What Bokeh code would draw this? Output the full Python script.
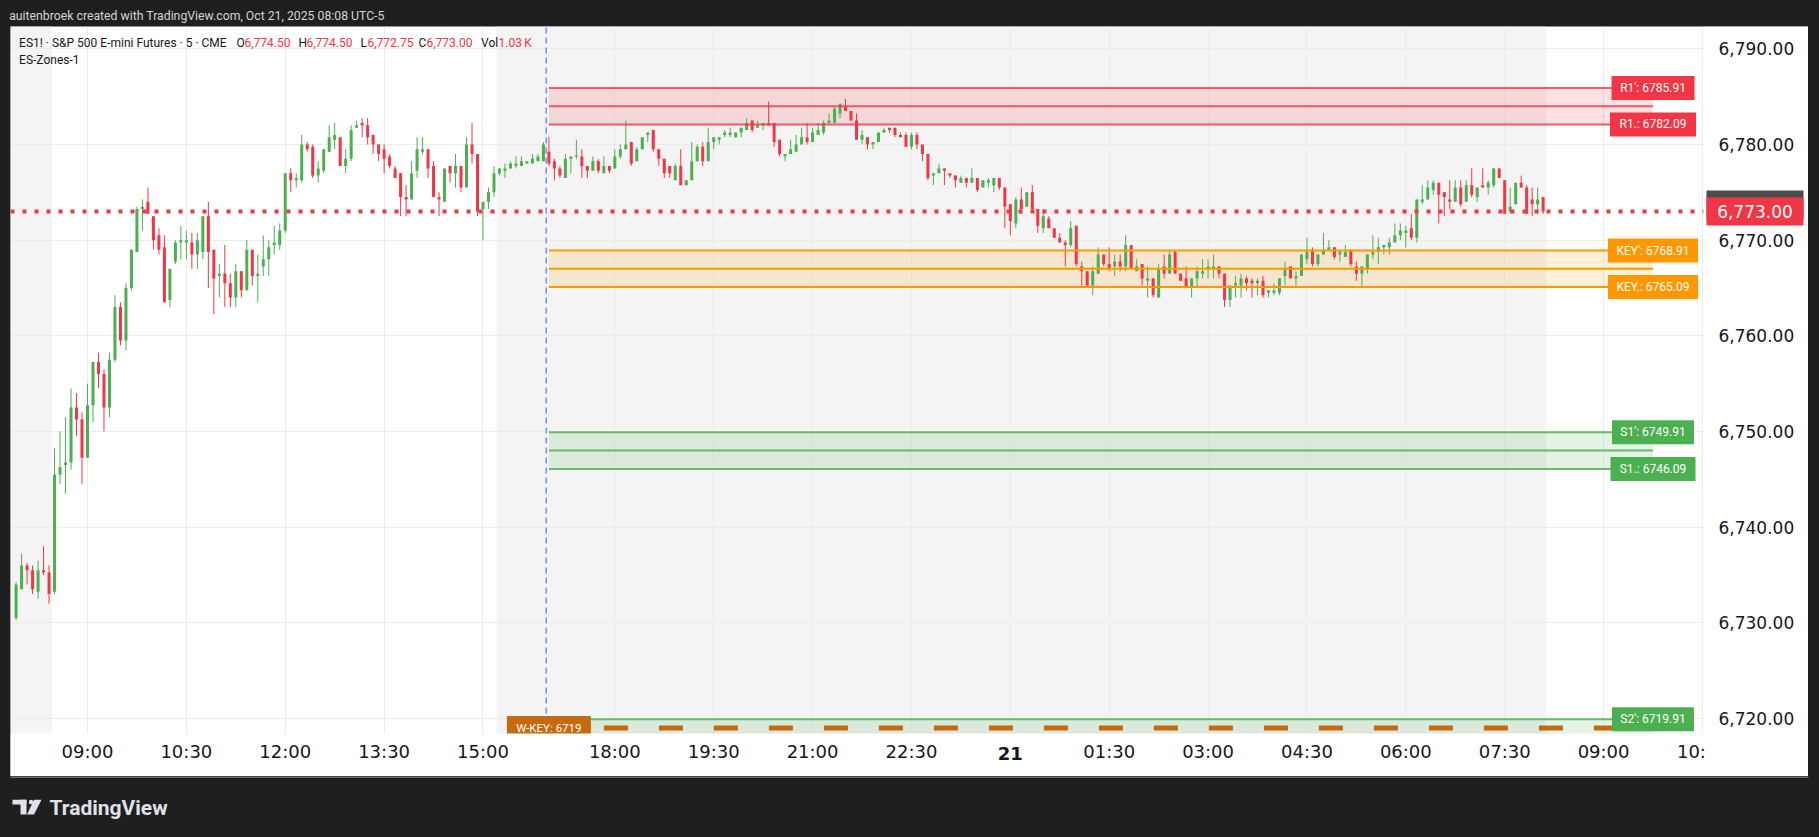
import numpy as np
import pandas as pd
from bokeh.plotting import figure
from bokeh.models import (Range1d, FixedTicker, NumeralTickFormatter, Label, BoxAnnotation,
                          ColumnDataSource, Spacer)
from bokeh.layouts import column, row
from bokeh.embed import file_html
from bokeh.resources import INLINE
from bokeh.core.properties import value

# ---------------- data (ES1!, 5 min bars) ----------------
session1_start = "2025-10-20 07:55"
session1_bars = 97
session2_start = "2025-10-20 17:00"
rth_open = "2025-10-20 08:30"
rth_close = "2025-10-20 15:15"

opens = [
    6730.5, 6733.5, 6736.0, 6735.5, 6733.25, 6735.5, 6735.25, 6733.25, 6745.5, 6746.5,
    6746.75, 6752.5, 6751.25, 6747.25, 6752.75, 6757.25, 6756.0, 6752.5, 6757.5, 6763.0,
    6759.5, 6765.0, 6768.75, 6773.25, 6774.0, 6772.5, 6770.5, 6769.25, 6763.75, 6767.75,
    6769.75, 6769.75, 6769.75, 6768.5, 6768.75, 6772.5, 6769.0, 6766.25, 6766.5, 6765.5,
    6764.0, 6766.75, 6764.75, 6769.0, 6766.25, 6767.25, 6768.0, 6769.5, 6769.5, 6771.0,
    6777.0, 6776.25, 6776.25, 6780.0, 6779.75, 6776.75, 6777.25, 6779.25, 6780.5, 6780.75,
    6777.75, 6778.5, 6781.75, 6782.25, 6782.0, 6781.0, 6780.0, 6779.5, 6778.75, 6777.5,
    6777.0, 6774.5, 6774.25, 6777.25, 6779.25, 6779.5, 6777.75, 6774.5, 6774.0, 6777.75,
    6777.0, 6777.75, 6775.5, 6780.0, 6779.0, 6773.25, 6774.0, 6775.0, 6777.0, 6777.25,
    6777.5, 6777.75, 6777.75, 6778.0, 6778.0, 6778.25, 6778.25,
    6779.25, 6778.25, 6777.5,
    6776.5, 6778.5, 6778.75, 6778.75, 6777.75, 6777.25, 6778.25, 6777.0, 6777.75, 6777.5,
    6778.75, 6779.5, 6780.25, 6778.25, 6779.5, 6781.0, 6781.5, 6779.5, 6778.5, 6777.75,
    6776.25, 6777.75, 6775.75, 6776.25, 6778.25, 6779.75, 6778.25, 6780.25, 6780.5, 6781.0,
    6781.0, 6780.75, 6781.25, 6781.5, 6782.5, 6781.75, 6782.0, 6782.25, 6782.25, 6780.5,
    6778.75, 6779.0, 6779.25, 6780.0, 6780.75, 6780.25, 6781.0, 6781.25, 6782.25, 6782.25,
    6783.25, 6784.0, 6783.5, 6782.5, 6780.5, 6780.75, 6780.0, 6780.25, 6781.25, 6781.75,
    6781.75, 6781.0, 6781.0, 6779.75, 6781.0, 6780.0, 6779.0, 6776.75, 6777.0, 6777.5,
    6777.0, 6776.75, 6776.0, 6776.5, 6776.0, 6776.5, 6775.5, 6776.0, 6775.75, 6776.5,
    6775.5, 6773.75, 6771.75, 6774.25, 6773.5, 6775.0, 6773.25, 6771.25, 6772.25, 6771.25,
    6770.25, 6769.75, 6769.5, 6771.5, 6767.25, 6766.75, 6765.25, 6766.5, 6768.5, 6767.5,
    6767.25, 6767.75, 6767.25, 6769.5, 6766.75, 6767.5, 6765.75, 6766.0, 6764.0, 6767.25,
    6766.5, 6768.75, 6766.5, 6766.0, 6765.0, 6766.0, 6766.5, 6767.0, 6767.0, 6767.25,
    6766.5, 6763.75, 6765.25, 6765.25, 6766.0, 6765.75, 6765.5, 6765.75, 6764.5, 6764.5,
    6764.5, 6766.25, 6767.25, 6766.0, 6766.25, 6768.0, 6769.0, 6767.5, 6768.5, 6769.0,
    6769.25, 6768.5, 6768.25, 6769.0, 6767.25, 6766.5, 6767.0, 6768.5, 6768.75, 6769.25,
    6769.25, 6769.75, 6770.5, 6770.75, 6771.25, 6770.25, 6774.0, 6774.25, 6775.25, 6776.0,
    6775.0, 6774.25, 6774.0, 6775.5, 6774.0, 6775.75, 6774.5, 6775.75, 6775.5, 6775.75,
    6777.5, 6776.25, 6773.0, 6773.75, 6776.0, 6775.5, 6774.25, 6773.75, 6774.5,
]
highs = [
    6734.25, 6737.25, 6736.25, 6736.0, 6736.5, 6738.0, 6736.0, 6748.25, 6750.0, 6751.5,
    6754.5, 6754.0, 6752.0, 6755.0, 6757.25, 6758.25, 6756.5, 6758.25, 6764.25, 6763.5,
    6765.5, 6769.0, 6773.5, 6774.25, 6775.5, 6772.5, 6771.25, 6770.5, 6767.0, 6770.0,
    6771.5, 6771.0, 6770.75, 6770.75, 6772.5, 6774.0, 6769.0, 6767.5, 6769.5, 6766.5,
    6767.5, 6766.75, 6770.0, 6769.0, 6768.5, 6770.5, 6770.0, 6771.5, 6771.75, 6777.0,
    6777.5, 6777.0, 6781.0, 6780.25, 6780.0, 6778.25, 6779.5, 6782.0, 6782.25, 6780.75,
    6779.5, 6782.0, 6782.5, 6782.75, 6782.75, 6781.0, 6780.0, 6780.0, 6779.0, 6777.75,
    6777.0, 6775.75, 6778.25, 6780.75, 6780.75, 6779.5, 6778.25, 6775.0, 6777.5, 6777.75,
    6779.0, 6777.75, 6780.75, 6782.25, 6779.0, 6774.0, 6775.5, 6777.75, 6777.5, 6778.0,
    6778.25, 6778.75, 6778.75, 6778.25, 6779.0, 6779.0, 6780.25,
    6780.75, 6778.5, 6777.75,
    6779.0, 6778.75, 6780.5, 6779.5, 6777.75, 6778.75, 6778.5, 6778.75, 6777.75, 6779.5,
    6780.0, 6782.5, 6780.25, 6779.75, 6780.75, 6781.25, 6781.5, 6779.5, 6778.5, 6777.75,
    6778.0, 6779.5, 6776.25, 6780.25, 6780.0, 6780.25, 6781.75, 6780.75, 6780.75, 6781.5,
    6781.75, 6781.25, 6781.75, 6782.75, 6782.5, 6782.5, 6782.25, 6784.5, 6782.25, 6780.5,
    6779.0, 6780.5, 6781.0, 6781.75, 6782.25, 6781.75, 6782.25, 6782.5, 6783.25, 6784.0,
    6784.25, 6784.75, 6783.5, 6783.25, 6781.5, 6780.75, 6780.25, 6781.25, 6781.75, 6781.75,
    6781.75, 6781.25, 6781.25, 6781.25, 6781.25, 6780.0, 6779.0, 6777.0, 6778.0, 6777.5,
    6777.0, 6776.75, 6776.75, 6776.5, 6777.5, 6776.5, 6776.25, 6776.5, 6776.5, 6776.5,
    6775.5, 6773.75, 6774.5, 6775.5, 6775.0, 6775.75, 6773.25, 6773.25, 6772.5, 6771.25,
    6770.75, 6770.0, 6772.0, 6771.5, 6767.75, 6766.75, 6767.25, 6769.25, 6768.5, 6769.25,
    6768.5, 6768.5, 6770.5, 6769.5, 6768.0, 6767.5, 6767.25, 6766.0, 6767.5, 6768.5,
    6769.0, 6769.0, 6766.5, 6767.25, 6766.0, 6767.25, 6768.0, 6768.0, 6768.5, 6767.25,
    6766.5, 6765.25, 6766.25, 6766.5, 6766.25, 6766.0, 6766.0, 6766.25, 6764.75, 6765.5,
    6766.0, 6767.75, 6767.25, 6766.75, 6768.5, 6770.25, 6769.25, 6768.5, 6770.75, 6770.0,
    6769.25, 6769.0, 6769.5, 6769.0, 6767.75, 6767.25, 6768.5, 6770.5, 6770.25, 6769.5,
    6770.25, 6771.75, 6771.75, 6771.5, 6772.75, 6774.25, 6775.75, 6776.25, 6776.25, 6776.0,
    6775.0, 6776.25, 6776.25, 6776.25, 6776.25, 6777.5, 6775.5, 6777.5, 6776.25, 6777.5,
    6777.5, 6776.25, 6775.5, 6776.0, 6776.75, 6775.75, 6775.5, 6775.5, 6774.5,
]
lows = [
    6730.25, 6733.5, 6734.0, 6733.0, 6732.5, 6735.0, 6732.0, 6733.0, 6744.5, 6743.5,
    6746.0, 6749.5, 6744.5, 6747.25, 6751.0, 6754.5, 6750.0, 6751.5, 6757.25, 6759.0,
    6758.5, 6764.75, 6768.75, 6771.0, 6772.75, 6769.0, 6768.5, 6763.5, 6763.0, 6767.5,
    6768.0, 6768.0, 6767.0, 6767.0, 6768.0, 6765.0, 6762.25, 6764.0, 6763.0, 6763.0,
    6763.0, 6764.0, 6764.75, 6765.25, 6763.5, 6766.25, 6766.25, 6768.5, 6769.0, 6770.75,
    6775.0, 6775.5, 6776.0, 6779.25, 6776.5, 6776.0, 6777.0, 6779.25, 6779.5, 6777.75,
    6777.0, 6778.25, 6781.75, 6780.75, 6780.0, 6779.0, 6778.25, 6777.0, 6777.5, 6776.5,
    6772.5, 6772.5, 6774.25, 6776.5, 6779.0, 6776.5, 6774.5, 6772.5, 6774.0, 6776.0,
    6775.5, 6775.0, 6775.5, 6778.0, 6772.5, 6770.0, 6773.25, 6774.5, 6776.75, 6776.5,
    6777.5, 6777.5, 6777.75, 6778.0, 6778.0, 6778.25, 6778.25,
    6777.75, 6776.25, 6776.5,
    6776.5, 6777.0, 6778.5, 6776.5, 6776.5, 6777.25, 6777.0, 6777.0, 6777.0, 6777.5,
    6778.5, 6779.5, 6777.75, 6778.25, 6779.5, 6780.25, 6779.25, 6777.75, 6776.5, 6776.5,
    6776.25, 6775.75, 6775.75, 6776.25, 6778.25, 6777.75, 6778.25, 6779.5, 6780.0, 6780.75,
    6780.75, 6780.75, 6780.75, 6781.5, 6781.25, 6781.75, 6781.5, 6782.0, 6779.75, 6778.75,
    6778.25, 6779.0, 6779.25, 6780.0, 6780.0, 6780.25, 6781.0, 6781.0, 6782.25, 6782.25,
    6782.75, 6783.5, 6782.5, 6780.5, 6780.0, 6779.5, 6779.5, 6780.25, 6781.25, 6781.25,
    6780.75, 6780.75, 6779.75, 6779.5, 6779.5, 6778.25, 6776.25, 6775.75, 6777.0, 6775.75,
    6776.5, 6775.5, 6776.0, 6775.5, 6776.0, 6775.0, 6775.5, 6775.5, 6775.0, 6775.25,
    6771.25, 6770.5, 6771.25, 6772.75, 6773.5, 6773.0, 6770.75, 6770.75, 6771.25, 6770.25,
    6769.75, 6767.25, 6769.25, 6767.25, 6765.25, 6765.0, 6764.25, 6766.5, 6767.25, 6766.75,
    6766.25, 6766.75, 6766.75, 6767.0, 6766.75, 6765.25, 6764.0, 6764.0, 6764.0, 6766.0,
    6766.5, 6766.5, 6765.75, 6765.0, 6764.0, 6765.0, 6766.0, 6766.0, 6766.0, 6766.0,
    6763.0, 6763.0, 6764.0, 6764.0, 6764.75, 6764.0, 6764.25, 6764.0, 6764.0, 6764.25,
    6764.25, 6765.25, 6766.0, 6765.0, 6766.25, 6767.5, 6767.25, 6767.25, 6768.5, 6769.0,
    6768.0, 6767.75, 6768.25, 6767.25, 6765.75, 6765.0, 6766.5, 6768.0, 6767.5, 6768.5,
    6768.5, 6769.75, 6770.0, 6769.25, 6770.0, 6769.75, 6773.75, 6774.25, 6774.75, 6771.75,
    6772.5, 6773.25, 6774.0, 6773.5, 6774.0, 6774.5, 6774.0, 6775.5, 6774.75, 6775.5,
    6776.5, 6772.75, 6772.75, 6773.75, 6775.5, 6772.75, 6772.5, 6772.75, 6772.75,
]
closes = [
    6734.0, 6736.0, 6735.5, 6733.5, 6735.5, 6735.25, 6733.0, 6745.5, 6746.25, 6746.75,
    6752.5, 6751.25, 6747.25, 6752.75, 6757.25, 6756.0, 6752.5, 6757.5, 6763.0, 6759.5,
    6765.0, 6769.0, 6773.25, 6773.5, 6772.75, 6770.0, 6769.0, 6763.5, 6767.0, 6769.75,
    6770.0, 6770.0, 6768.5, 6770.0, 6772.5, 6768.75, 6766.0, 6766.5, 6765.5, 6764.0,
    6766.75, 6764.75, 6769.0, 6766.25, 6766.5, 6768.0, 6769.25, 6769.75, 6771.0, 6777.0,
    6776.25, 6776.5, 6780.0, 6779.5, 6776.75, 6777.5, 6779.5, 6780.75, 6781.0, 6777.75,
    6778.5, 6781.5, 6782.0, 6782.0, 6780.75, 6780.0, 6779.0, 6778.5, 6777.75, 6776.5,
    6774.5, 6774.25, 6777.0, 6779.5, 6779.5, 6777.5, 6774.5, 6774.25, 6777.5, 6777.0,
    6777.75, 6775.5, 6780.0, 6779.0, 6773.0, 6774.0, 6775.0, 6777.0, 6777.5, 6777.5,
    6778.0, 6778.0, 6778.25, 6778.25, 6778.5, 6778.75, 6780.0,
    6778.0, 6777.5, 6776.75,
    6778.5, 6778.75, 6778.75, 6777.75, 6777.25, 6778.25, 6777.25, 6777.75, 6777.25, 6778.75,
    6779.5, 6780.0, 6778.0, 6779.5, 6780.75, 6781.25, 6779.5, 6778.5, 6777.0, 6777.0,
    6777.75, 6775.75, 6776.25, 6778.25, 6779.75, 6778.25, 6780.25, 6780.75, 6780.75, 6781.25,
    6781.25, 6781.25, 6781.75, 6782.25, 6781.5, 6782.0, 6782.25, 6782.0, 6780.25, 6779.0,
    6779.0, 6779.5, 6780.0, 6780.75, 6780.25, 6781.25, 6781.5, 6782.25, 6782.5, 6783.75,
    6784.25, 6783.5, 6782.5, 6780.5, 6781.0, 6780.0, 6780.25, 6781.25, 6781.5, 6781.5,
    6781.0, 6780.75, 6779.75, 6781.0, 6780.0, 6779.0, 6776.5, 6777.0, 6777.5, 6777.25,
    6776.75, 6776.25, 6776.5, 6776.0, 6776.5, 6775.25, 6776.25, 6776.25, 6776.5, 6775.5,
    6773.5, 6772.0, 6774.25, 6773.25, 6775.0, 6773.25, 6771.5, 6772.5, 6771.25, 6770.25,
    6769.75, 6769.5, 6771.25, 6767.5, 6766.75, 6765.25, 6766.75, 6768.5, 6767.5, 6767.0,
    6767.75, 6767.25, 6769.5, 6767.0, 6767.25, 6766.0, 6766.0, 6764.25, 6767.0, 6766.5,
    6768.5, 6766.5, 6765.75, 6765.0, 6766.0, 6766.75, 6766.75, 6767.25, 6767.25, 6766.5,
    6763.75, 6765.25, 6765.5, 6766.0, 6765.5, 6765.5, 6765.75, 6764.25, 6764.75, 6764.75,
    6766.0, 6767.0, 6766.0, 6766.25, 6768.5, 6768.75, 6767.5, 6768.5, 6769.0, 6769.25,
    6768.25, 6768.75, 6768.75, 6767.5, 6766.5, 6767.25, 6768.5, 6768.75, 6769.25, 6769.5,
    6769.75, 6770.5, 6771.0, 6771.0, 6770.25, 6774.25, 6774.25, 6775.5, 6776.0, 6774.75,
    6774.5, 6774.0, 6775.5, 6773.75, 6775.75, 6774.75, 6775.5, 6775.5, 6776.0, 6777.5,
    6776.5, 6772.75, 6773.5, 6776.0, 6775.5, 6772.75, 6773.75, 6774.25, 6773.0,
]
last_volume_k = 1.03

zone_names = ["R1", "KEY", "S1", "S2"]
zone_tops = [6785.91, 6768.91, 6749.91, 6719.91]
zone_bottoms = [6782.09, 6765.09, 6746.09, 6716.09]
wkey_level = 6719
zone_extension_bars = 20

price_ticks = [6720, 6730, 6740, 6750, 6760, 6770, 6780, 6790]
tick_times = ["2025-10-20 09:00", "2025-10-20 10:30", "2025-10-20 12:00", "2025-10-20 13:30",
              "2025-10-20 15:00", "2025-10-20 18:00", "2025-10-20 19:30", "2025-10-20 21:00",
              "2025-10-20 22:30", "2025-10-21 00:00", "2025-10-21 01:30", "2025-10-21 03:00",
              "2025-10-21 04:30", "2025-10-21 06:00", "2025-10-21 07:30", "2025-10-21 09:00",
              "2025-10-21 10:30"]
tick_labels = ["09:00", "10:30", "12:00", "13:30", "15:00", "18:00", "19:30", "21:00", "22:30",
               "21", "01:30", "03:00", "04:30", "06:00", "07:30", "09:00", "10:"]

# ---------------- styling ----------------
DARK = "#1f1f1f"
TXT = "#131722"
UP, DOWN = "#4caf50", "#f23645"
GRID = "#ececec"
SESSION_BG = "#f4f4f4"
zone_line_colors = ["#f23645", "#ff9800", "#66bb6a", "#66bb6a"]
zone_line_alpha = [0.8, 1.0, 1.0, 1.0]
zone_fill_colors = ["#f23645", "#ff9800", "#4caf50", "#4caf50"]
zone_label_colors = ["#f23645", "#ff9800", "#4caf50", "#4caf50"]
zone_label_widths = [(83, 86), (90, 90), (82, 85), (82, 85)]
WKEY_COLOR = "#c66a0f"

# ---------------- geometry (page pixels of the 1819x837 window) ----------------
PANEL_L, PANEL_R, PANEL_T, PANEL_B = 10, 1808, 26, 776     # white chart panel
PLOT_R, PLOT_B = 1703, 733                                 # price scale / time scale start
bar_px, x0_page = 5.493, 15.59                             # bar spacing, first bar centre
px_per_pt, ref_price, ref_page_y = 9.567, 6790.0, 48.3

def xpx(page_x):
    return (page_x - x0_page) / bar_px

def ypx(page_y):
    return ref_price - (page_y - ref_page_y) / px_per_pt

n = len(opens)
s1 = pd.date_range(session1_start, periods=session1_bars, freq="5min")
s2 = pd.date_range(session2_start, periods=n - session1_bars + 40, freq="5min")
all_times = list(s1) + list(s2)
pos = {t: i for i, t in enumerate(all_times)}
tick_pos = [pos[pd.Timestamp(t)] for t in tick_times]
axis_tick_pos = list(tick_pos)
axis_tick_pos[-1] = tick_pos[-1] - 2   # last label is cut by the price scale
rth_first = pos[pd.Timestamp(rth_open)]
rth_after = pos[pd.Timestamp(rth_close)]
zone_start = session1_bars
zone_end = n - 1 + zone_extension_bars

x_start, x_end = xpx(PANEL_L), xpx(PANEL_R)
y_bot, y_top = ypx(PANEL_B), ypx(PANEL_T)
x_plot_end, y_plot_bot = xpx(PLOT_R), ypx(PLOT_B)

# ---------------- main chart ----------------
p = figure(width=PANEL_R - PANEL_L, height=PANEL_B - PANEL_T,
           x_range=Range1d(x_start, x_end), y_range=Range1d(y_bot, y_top),
           y_axis_location="right", toolbar_location=None, output_backend="svg",
           title_location=None, min_border=0)
p.background_fill_color = "white"
p.border_fill_color = "white"
p.outline_line_color = None

p.xaxis.ticker = FixedTicker(ticks=axis_tick_pos)
p.xaxis.major_label_overrides = {axis_tick_pos[i]: (tick_labels[i] if tick_labels[i] != "21" else "")
                                 for i in range(len(tick_labels))}
p.yaxis.ticker = FixedTicker(ticks=price_ticks)
p.yaxis.formatter = NumeralTickFormatter(format="0,0.00")
for ax in (p.xaxis, p.yaxis):
    ax.axis_line_color = None
    ax.major_tick_line_color = None
    ax.minor_tick_line_color = None
    ax.major_tick_out = 0
    ax.major_tick_in = 0
    ax.major_label_text_font = "DejaVu Sans"
    ax.major_label_text_color = TXT
p.yaxis.major_label_text_font_size = "17px"
p.xaxis.major_label_text_font_size = "18px"
p.yaxis.major_label_standoff = -(PANEL_R - 1718)   # labels sit in the price-scale strip
p.xaxis.major_label_standoff = -36                  # labels sit in the time-scale strip

p.xgrid.ticker = FixedTicker(ticks=tick_pos)
p.ygrid.ticker = FixedTicker(ticks=price_ticks)
p.grid.grid_line_color = GRID
p.grid.grid_line_width = 1

# extended-hours background
p.add_layout(BoxAnnotation(left=x_start, right=rth_first - 0.5, fill_color=SESSION_BG,
                           fill_alpha=1, line_color=None, level="image"))
p.add_layout(BoxAnnotation(left=rth_after - 0.5, right=n - 0.5, fill_color=SESSION_BG,
                           fill_alpha=1, line_color=None, level="image"))

# zone fills
for i in range(len(zone_names)):
    p.quad(left=[zone_start], right=[zone_end], top=[zone_tops[i]], bottom=[zone_bottoms[i]],
           fill_color=zone_fill_colors[i], fill_alpha=0.15, line_color=None)

# candles
o = np.array(opens); h = np.array(highs); l = np.array(lows); c = np.array(closes)
xs = np.arange(n)
colors = np.where(c >= o, UP, DOWN)
btop = np.maximum(o, c)
bbot = np.minimum(o, c)
btop = np.where(btop - bbot < 0.12, bbot + 0.12, btop)
src = ColumnDataSource(dict(x=xs, h=h, l=l, t=btop, b=bbot, col=colors))
p.segment(x0="x", y0="h", x1="x", y1="l", color="col", line_width=1, source=src)
p.vbar(x="x", width=0.55, top="t", bottom="b", fill_color="col", line_color=None, source=src)

# zone lines
for i in range(len(zone_names)):
    mid = (zone_tops[i] + zone_bottoms[i]) / 2
    for lv in (zone_tops[i], mid, zone_bottoms[i]):
        p.segment(x0=[zone_start], y0=[lv], x1=[zone_end], y1=[lv], line_color=zone_line_colors[i],
                  line_alpha=zone_line_alpha[i], line_width=2)

# weekly key
p.segment(x0=[zone_start], y0=[wkey_level], x1=[zone_end], y1=[wkey_level], line_color=WKEY_COLOR,
          line_width=5, line_dash="24 31")

# current price line and session break
p.segment(x0=[x_start], y0=[closes[-1]], x1=[x_plot_end], y1=[closes[-1]], line_color="#f23645",
          line_width=4, line_dash="4 8")
p.segment(x0=[session1_bars - 0.5], y0=[y_plot_bot], x1=[session1_bars - 0.5], y1=[y_top],
          line_color="#2962ff", line_width=1, line_dash="6 4")

# zone labels
lx, ly, lt, lw, lc = [], [], [], [], []
for i, nm in enumerate(zone_names):
    for j, (suffix, lv) in enumerate((("'", zone_tops[i]), (".", zone_bottoms[i]))):
        lx.append(zone_end); ly.append(lv); lt.append(f"{nm}{suffix}: {lv:.2f}")
        lw.append(zone_label_widths[i][j]); lc.append(zone_label_colors[i])
lsrc = ColumnDataSource(dict(x=lx, y=ly, t=lt, w=lw, c=lc))
p.rect(x="x", y="y", width="w", height=24, width_units="screen", height_units="screen",
       fill_color="c", line_color=None, source=lsrc)
p.text(x="x", y="y", text="t", text_align="center", text_baseline="middle", text_color="white",
       text_font=value("Roboto"), text_font_size="12px", source=lsrc)

p.rect(x=[zone_start], y=[wkey_level], width=84, height=24, width_units="screen",
       height_units="screen", fill_color=WKEY_COLOR, line_color=None)
p.text(x=[zone_start], y=[wkey_level], text=[f"W-KEY: {wkey_level}"], text_align="center",
       text_baseline="middle", text_color="white", text_font=value("Roboto"),
       text_font_size="11.5px")

# white price-scale and time-scale strips (cover grid and overflow)
p.quad(left=[x_plot_end], right=[x_end], bottom=[y_bot], top=[y_top], fill_color="white",
       line_color=None)
p.quad(left=[x_start], right=[x_end], bottom=[y_bot], top=[y_plot_bot], fill_color="white",
       line_color=None)

def fmt(v):
    return f"{v:,.2f}"

# price-scale tag for the last price
tag_x = xpx((1706 + 1803) / 2)
p.rect(x=[tag_x], y=[closes[-1] + 7 / px_per_pt], width=97, height=28, width_units="screen",
       height_units="screen", fill_color="#4d4d4d", line_color=None)
p.rect(x=[tag_x], y=[closes[-1]], width=97, height=28, width_units="screen",
       height_units="screen", fill_color="#f23645", line_color=None)
p.text(x=[tag_x], y=[closes[-1]], text=[fmt(closes[-1])], text_align="center",
       text_baseline="middle", text_color="white", text_font=value("DejaVu Sans"),
       text_font_size="17px")

# bold day label on the time scale
p.text(x=[tick_pos[tick_labels.index("21")]], y=[ypx(753)], text=["21"], text_align="center",
       text_baseline="middle", text_color=TXT, text_font=value("DejaVu Sans"),
       text_font_style="bold", text_font_size="18px")

# header legend (screen units measured from the panel's bottom-left corner)
RED = "#f23645"
header = [("ES1! \u00b7 S&P 500 E-mini Futures \u00b7 5 \u00b7 CME", 18.6, TXT),
          ("O", 236, TXT), (fmt(opens[-1]), 244, RED),
          ("H", 298, TXT), (fmt(highs[-1]), 306, RED),
          ("L", 360, TXT), (fmt(lows[-1]), 367, RED),
          ("C", 418, TXT), (fmt(closes[-1]), 426, RED),
          ("Vol", 480.6, TXT), (f"{last_volume_k:.2f}\u2009K", 498, RED)]
for txt, x, col in header:
    p.add_layout(Label(x=x - PANEL_L, y=PANEL_B - 42, x_units="screen", y_units="screen", text=txt,
                       text_font="Roboto", text_font_size="12px", text_color=col,
                       text_baseline="middle"))
p.add_layout(Label(x=18.6 - PANEL_L, y=PANEL_B - 59, x_units="screen", y_units="screen",
                   text="ES-Zones-1", text_font="Roboto", text_font_size="12px", text_color=TXT,
                   text_baseline="middle"))

# ---------------- dark strips ----------------
W, H = 1819, 837

def strip(y_top_page, y_bot_page):
    f = figure(width=W, height=y_bot_page - y_top_page, x_range=Range1d(0, W),
               y_range=Range1d(y_bot_page, y_top_page), toolbar_location=None,
               output_backend="svg", title_location=None, min_border=0,
               x_axis_type=None, y_axis_type=None)
    f.background_fill_color = DARK
    f.border_fill_color = DARK
    f.outline_line_color = None
    f.grid.visible = False
    return f

top = strip(0, PANEL_T)
top.text(x=[8.7], y=[15], text=["auitenbroek created with TradingView.com, Oct 21, 2025 08:08 UTC-5"],
         text_font=value("Roboto"), text_font_size="12.25px", text_color="#d1d4dc",
         text_baseline="middle")

bot = strip(PANEL_B, H)
bot.segment(x0=[PANEL_L], y0=[776.5], x1=[PANEL_R], y1=[776.5], line_color="#8a8a8a", line_width=1.5)
LOGO = "#dfe2e8"
bot.quad(left=[12], right=[26], top=[799.3], bottom=[804], fill_color=LOGO, line_color=None)
bot.quad(left=[20], right=[26], top=[799.3], bottom=[814], fill_color=LOGO, line_color=None)
bot.circle(x=[30.5], y=[801.5], radius=2.2, fill_color=LOGO, line_color=None)
bot.patch(x=[33.5, 41, 33.5, 26.5], y=[799.3, 799.3, 814, 814], fill_color=LOGO, line_color=None)
bot.text(x=[49], y=[807], text=["TradingView"], text_font=value("Roboto"), text_font_style="bold",
         text_font_size="21px", text_color=LOGO, text_baseline="middle")

layout = column(top,
                row(Spacer(width=PANEL_L, height=PANEL_B - PANEL_T), p,
                    Spacer(width=W - PANEL_R, height=PANEL_B - PANEL_T)),
                bot)

html = file_html(layout, INLINE)
html = html.replace("<head>", "<head><style>html,body{background:#1f1f1f;}</style>", 1)
open("out.html", "w").write(html)
